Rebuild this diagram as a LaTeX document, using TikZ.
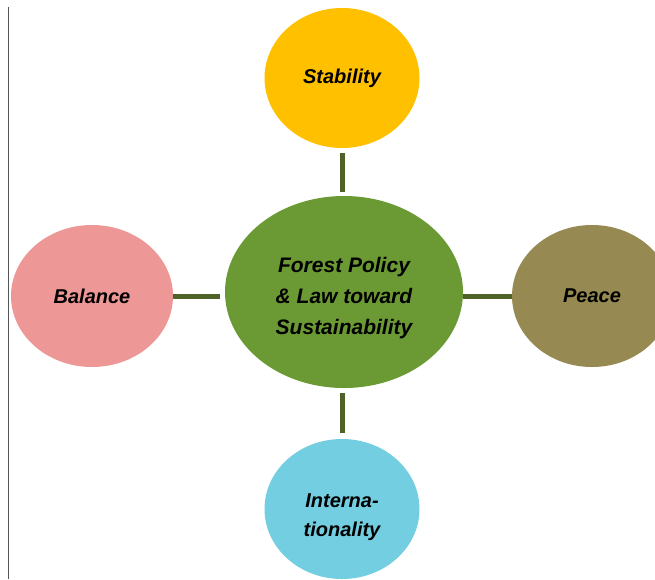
\documentclass[tikz,border=0pt]{standalone}
\usepackage{fontspec}
\setmainfont{Liberation Sans}
\usetikzlibrary{shapes.geometric}
\definecolor{stabY}{HTML}{FFC000}
\definecolor{coreG}{HTML}{6B9A35}
\definecolor{linkG}{HTML}{4F6328}
\definecolor{balP}{HTML}{EE9797}
\definecolor{peaceK}{HTML}{968A52}
\definecolor{intB}{HTML}{72CEE0}
\definecolor{edgeGray}{HTML}{555555}
\tikzset{
  bubble/.style={ellipse, inner sep=0pt, outer sep=0pt, align=center,
    font=\fontsize{20}{29}\selectfont\bfseries\itshape, text=black},
  link/.style={draw=linkG, line width=5pt, line cap=butt},
}
\begin{document}
\begin{tikzpicture}[x=1pt, y=-1pt]
  \useasboundingbox (0,0) rectangle (655,579);
  \clip (0,0) rectangle (655,579);
  % left page rule
  \draw[edgeGray, line width=1pt] (8,7) -- (8,579);

  % centre and surrounding themes
  \node[bubble, fill=coreG, minimum width=238pt, minimum height=192pt,
        font=\fontsize{21}{31}\selectfont\bfseries\itshape]
    (core) at (344,292) {\rule{0pt}{27pt}Forest Policy\\ \& Law toward\\ Sustainability};
  \node[bubble, fill=stabY, minimum width=155pt, minimum height=140pt]
    (stab) at (342,78) {Stability};
  \node[bubble, fill=intB, minimum width=155pt, minimum height=140pt]
    (intl) at (342,509) {\rule{0pt}{30pt}Interna-\\tionality};
  \node[bubble, fill=balP, minimum width=162pt, minimum height=142pt]
    (bal) at (92,296) {Balance};
  \node[bubble, fill=peaceK, minimum width=160pt, minimum height=142pt]
    (peace) at (592,296) {Peace};

  % connectors
  \draw[link, shorten <=5pt, shorten >=4pt] (stab.south) -- (stab.south |- core.north);
  \draw[link, shorten <=5pt, shorten >=6pt] (core.south -| intl.north) -- (intl.north);
  \draw[link, shorten >=5pt] (bal.east) -- (core.west |- bal.east);
  \draw[link] (core.east |- peace.west) -- (peace.west);
\end{tikzpicture}
\end{document}
